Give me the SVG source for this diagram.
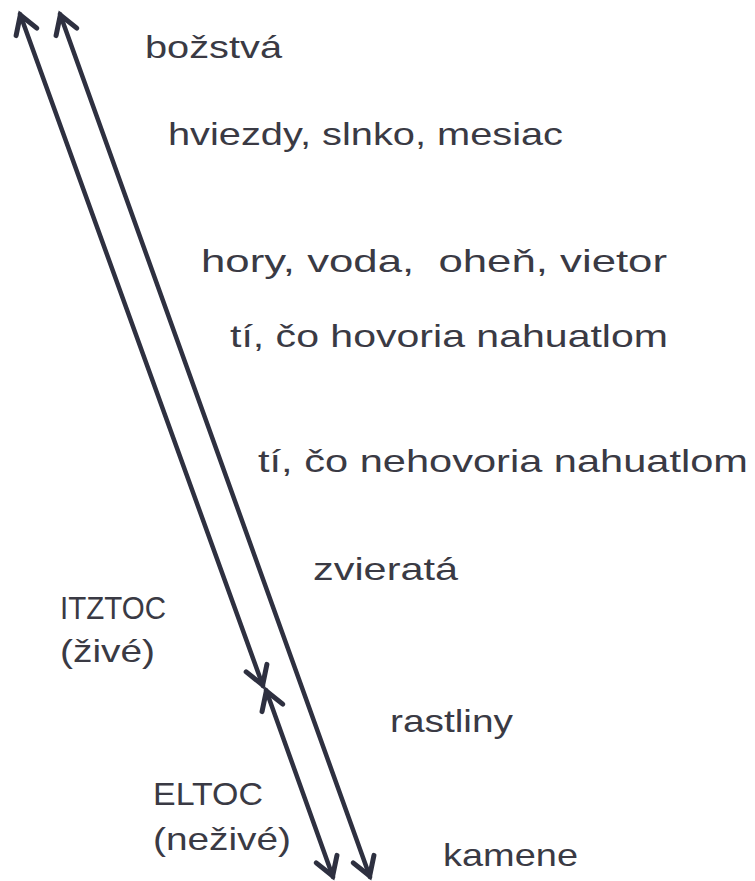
<svg xmlns="http://www.w3.org/2000/svg" width="755" height="881" viewBox="0 0 755 881">
<style>
text{font-family:"Liberation Sans","DejaVu Sans",sans-serif;font-size:32px;fill:#3a3a44}
.c{stroke:#2e3040;stroke-width:4.5;fill:none;stroke-linecap:round}
</style>
<defs>
<marker id="ah" viewBox="-25 -25 50 50" markerWidth="50" markerHeight="50" markerUnits="userSpaceOnUse" orient="auto-start-reverse" refX="0" refY="0">
<path d="M-19,-11 L-1,0 L-19,11" fill="none" stroke="#2e3040" stroke-width="5" stroke-linecap="round" stroke-linejoin="miter"/>
</marker>
</defs>
<rect width="755" height="881" fill="#fff"/>
<g id="connectors">
<line class="c" x1="20" y1="14" x2="263" y2="686" marker-start="url(#ah)" marker-end="url(#ah)"/>
<line class="c" x1="60" y1="14" x2="370" y2="877" marker-start="url(#ah)" marker-end="url(#ah)"/>
<line class="c" x1="266" y1="690" x2="333" y2="877" marker-start="url(#ah)" marker-end="url(#ah)"/>
</g>
<g id="bozstva"><text x="145" y="58" textLength="137" lengthAdjust="spacingAndGlyphs">božstvá</text></g>
<g id="hviezdy"><text x="168" y="145" textLength="395" lengthAdjust="spacingAndGlyphs">hviezdy, slnko, mesiac</text></g>
<g id="hory"><text x="201" y="272" textLength="466" lengthAdjust="spacingAndGlyphs" xml:space="preserve">hory, voda,  oheň, vietor</text></g>
<g id="hovoria"><text x="230" y="347" textLength="438" lengthAdjust="spacingAndGlyphs">tí, čo hovoria nahuatlom</text></g>
<g id="nehovoria"><text x="258" y="472" textLength="490" lengthAdjust="spacingAndGlyphs">tí, čo nehovoria nahuatlom</text></g>
<g id="zvierata"><text x="313" y="580" textLength="145" lengthAdjust="spacingAndGlyphs">zvieratá</text></g>
<g id="itztoc"><text x="60" y="619" textLength="106" lengthAdjust="spacingAndGlyphs">ITZTOC</text><text x="60" y="662" textLength="95" lengthAdjust="spacingAndGlyphs">(živé)</text></g>
<g id="rastliny"><text x="390" y="732" textLength="123" lengthAdjust="spacingAndGlyphs">rastliny</text></g>
<g id="eltoc"><text x="153" y="805" textLength="110" lengthAdjust="spacingAndGlyphs">ELTOC</text><text x="153" y="850" textLength="138" lengthAdjust="spacingAndGlyphs">(neživé)</text></g>
<g id="kamene"><text x="443" y="866" textLength="135" lengthAdjust="spacingAndGlyphs">kamene</text></g>
</svg>
